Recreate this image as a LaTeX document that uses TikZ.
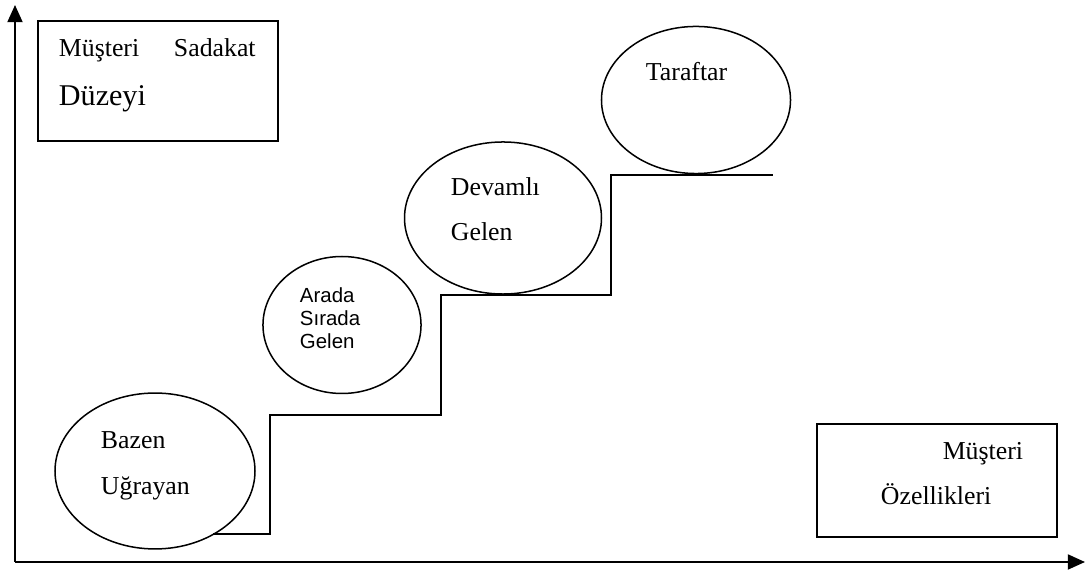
\documentclass[tikz,border=0pt]{standalone}
\usepackage{fontspec}
\setmainfont{Liberation Serif}
\newfontfamily\arialfont{Liberation Sans}
\usetikzlibrary{arrows.meta,shapes.geometric}

\begin{document}
\begin{tikzpicture}[x=0.465pt,y=-0.465pt,line width=0.9pt,
		lbl/.style={anchor=base west,inner sep=0pt,font=\fontsize{12}{14}\selectfont},
		eksen/.style={-{Triangle[length=8pt,width=7pt]}}]
	\useasboundingbox (0,0) rectangle (1092,572);
	
	\coordinate (O) at (15,562);
	\coordinate (ytop) at (15,5);
	\coordinate (xend) at (1085,562);
	\draw [eksen] (O) -- (ytop);
	\draw [eksen] (O) -- (xend);
	
	\begin{scope}[every node/.style={draw,rectangle,minimum width=111.6pt,inner sep=0pt}]
		\node [minimum height=55.8pt] (sadakat) at (158,81) {};
		\node [minimum height=52.5pt] (ozellik) at (937,480.5) {};
	\end{scope}
	
	\begin{scope}[every node/.style={draw,ellipse,line width=0.7pt,inner sep=0pt}]
		\node [minimum width=93pt,minimum height=72.5pt] (bazen) at (155,471) {};
		\node [minimum width=73.5pt,minimum height=63.7pt] (arada) at (342,325) {};
		\node [minimum width=91.6pt,minimum height=70.7pt] (devamli) at (503,218) {};
		\node [minimum width=87.9pt,minimum height=68.4pt] (taraftar) at (696,100) {};
	\end{scope}
	
	% basamaklar
	\draw (213,534) -| (270,415) -| (441,295) -| (611,175) -- (773,175);
	
	\node [lbl] (sadakatA) at (58,57) {Müşteri};
	\node [lbl] (sadakatB) at (173,57) {Sadakat};
	\node [lbl,font=\fontsize{14}{16}\selectfont] (sadakatC) at (58,106) {Düzeyi};
	\node [lbl,anchor=base east] (ozellikA) at (1024,460) {Müşteri};
	\node [lbl] (ozellikB) at (880,505) {Özellikleri};
	\node [lbl] (bazenA) at (100,449) {Bazen};
	\node [lbl] (bazenB) at (100,495) {Uğrayan};
	\begin{scope}[every node/.style={lbl,font=\arialfont\fontsize{9.5}{11}\selectfont}]
		\node (aradaA) at (299,303) {Arada};
		\node (aradaB) at (299,326) {Sırada};
		\node (aradaC) at (299,349) {Gelen};
	\end{scope}
	\node [lbl] (devamliA) at (450,196) {Devamlı};
	\node [lbl] (devamliB) at (450,241) {Gelen};
	\node [lbl] (taraftarA) at (645,81) {Taraftar};
\end{tikzpicture}
\end{document}
